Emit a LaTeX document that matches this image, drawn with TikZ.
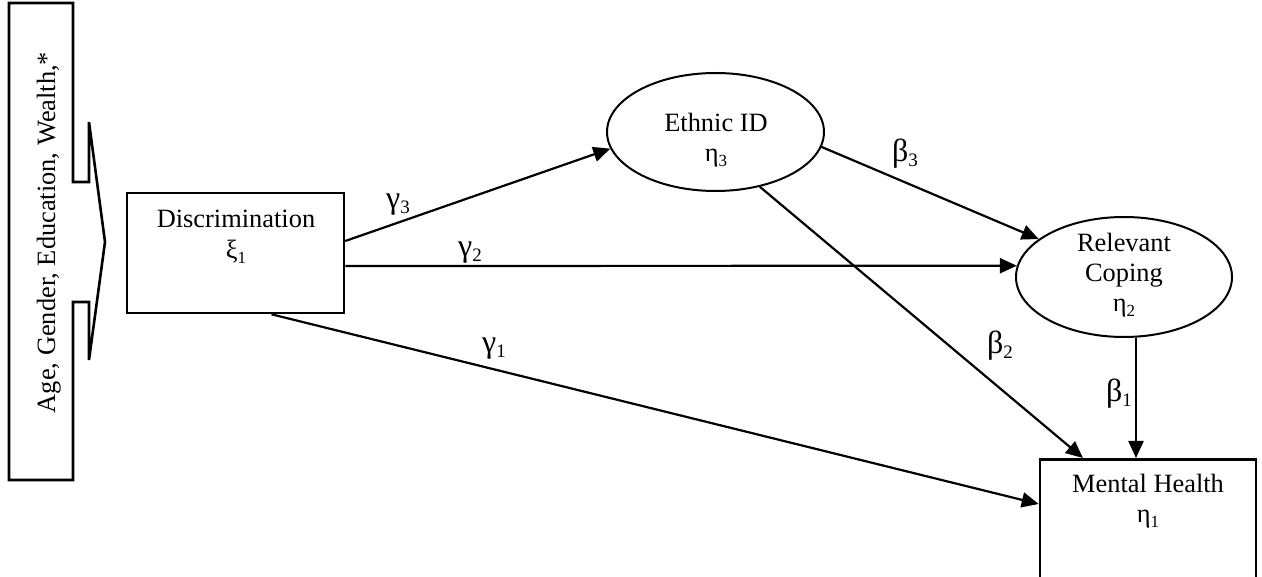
\documentclass[tikz,border=0pt]{standalone}
\usepackage{fontspec}
\setmainfont{Liberation Serif}
\usetikzlibrary{arrows.meta,shapes.geometric}

% lowered, smaller index digits
\newcommand\idx[1]{\raisebox{-5pt}{\fontsize{17}{17}\selectfont #1}}
\newcommand\pidx[1]{\raisebox{-5pt}{\fontsize{19}{19}\selectfont #1}}

\tikzset{
  boxshape/.style={draw, line width=2.6pt, rectangle, inner sep=0pt},
  ellshape/.style={draw, line width=2pt, ellipse, inner sep=0pt},
  txt/.style={inner sep=0pt, anchor=base, font=\fontsize{26.4}{31}\selectfont},
  coef/.style={inner sep=0pt, font=\fontsize{32}{32}\selectfont},
  path arrow/.style={line width=2.2pt, -{Triangle[length=17pt,width=15pt]}},
}

\begin{document}
\begin{tikzpicture}[x=1pt,y=1pt]
\useasboundingbox (0,0) rectangle (1262,-577);

% covariates: box with a wide arrow pointing right
\draw[line width=2.6pt, line join=miter]
  (9,-3) -- (73,-3) -- (73,-182) -- (89,-182) -- (89,-122) -- (105,-242)
  -- (89,-360) -- (89,-302) -- (73,-302) -- (73,-480) -- (9,-480) -- cycle;
\node[txt, rotate=90] (ctrltext) at (55,-232.5) {Age, Gender, Education, Wealth,*};

% latent variables
\node[boxshape, minimum width=217, minimum height=120] (disc) at (235.5,-253) {};
\node[ellshape, minimum width=217, minimum height=118] (eth) at (715.5,-132) {};
\node[ellshape, minimum width=216, minimum height=120] (cop) at (1124,-277) {};
\node[boxshape, minimum width=216, minimum height=137, anchor=north] (mh) at (1148,-458) {};

% labels inside the variables
\node[txt] (disc1) at (236,-228) {Discrimination};
\node[txt] (disc2) at (236,-259) {ξ\idx{1}};
\node[txt] (eth1) at (716,-132) {Ethnic ID};
\node[txt] (eth2) at (716,-162) {η\idx{3}};
\node[txt] (cop1) at (1124,-252) {Relevant};
\node[txt] (cop2) at (1124,-282) {Coping};
\node[txt] (cop3) at (1124,-312) {η\idx{2}};
\node[txt] (mh1) at (1148,-492) {Mental Health};
\node[txt] (mh2) at (1148,-522) {η\idx{1}};

% structural paths
\draw[path arrow] ([yshift=12]disc.east) -- (eth.189);
\draw[path arrow] ([yshift=-13]disc.east) -- (cop.174);
\draw[path arrow] ([xshift=36]disc.south) -- ([yshift=-46]mh.north west);
\draw[path arrow] (eth.309.6) -- ([xshift=-65]mh.north);
\draw[path arrow] (eth.352) -- (cop.156.7);
\draw[path arrow] ([xshift=12]cop.south) -- ([xshift=-12]mh.north);

% path coefficients
\node[coef] (g3) at (398,-205) {γ\pidx{3}};
\node[coef] (g2) at (470,-253) {γ\pidx{2}};
\node[coef] (g1) at (494,-349) {γ\pidx{1}};
\node[coef] (b3) at (905,-154) {β\pidx{3}};
\node[coef] (b2) at (1000,-346) {β\pidx{2}};
\node[coef] (b1) at (1119,-394) {β\pidx{1}};
\end{tikzpicture}
\end{document}
